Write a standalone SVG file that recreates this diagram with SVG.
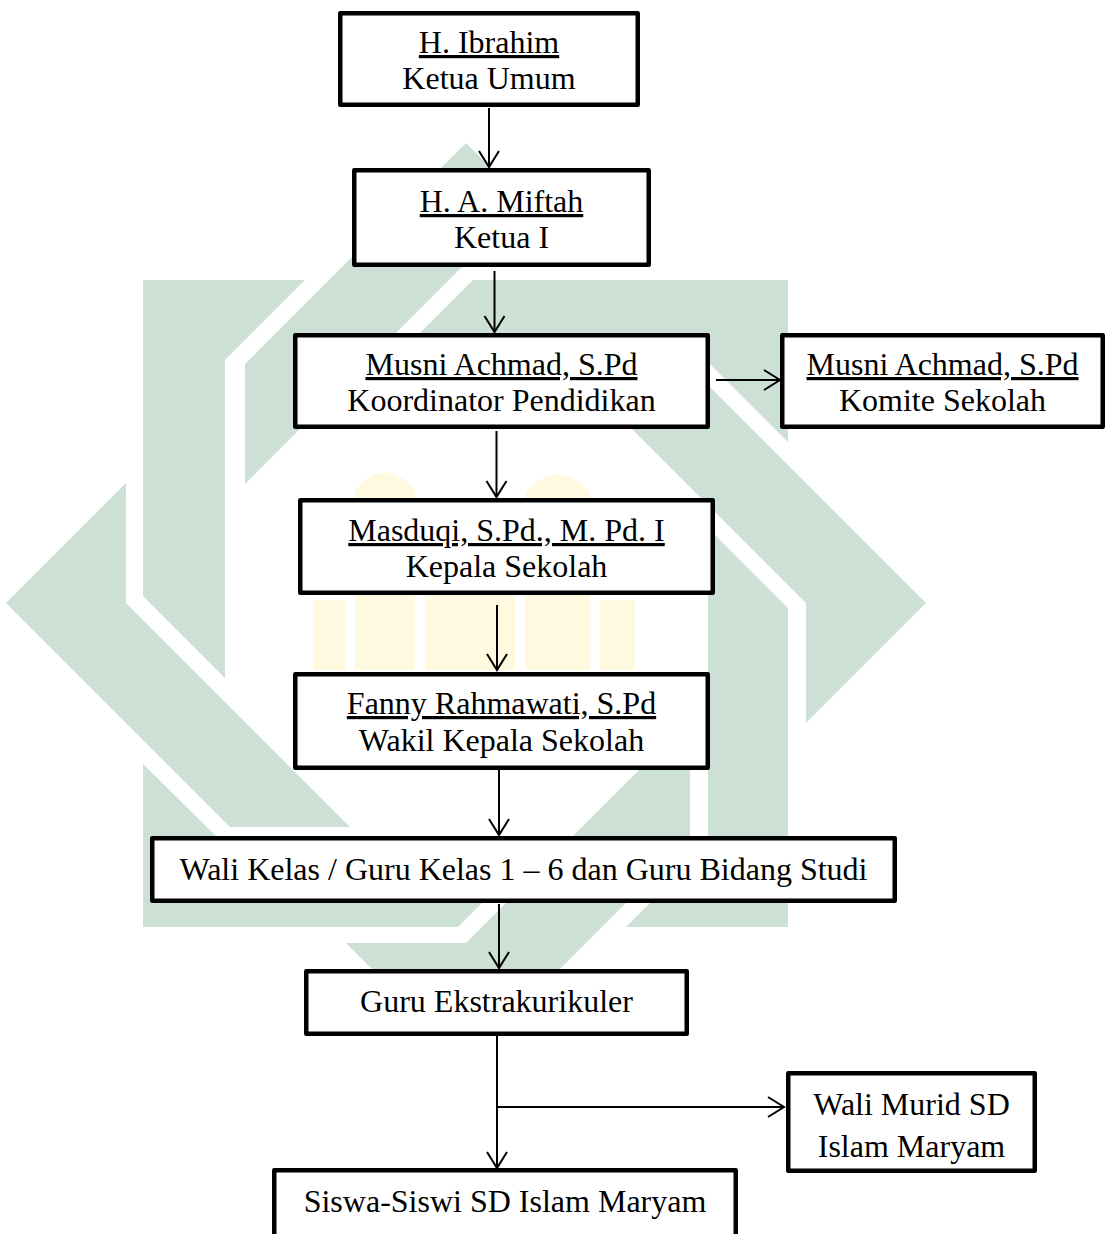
<svg xmlns="http://www.w3.org/2000/svg" width="1107" height="1234" viewBox="0 0 1107 1234">
<style>
.wm{fill:#cde0d6;stroke:none}
.yl{fill:#fffadf;stroke:none}
.box{fill:#fff;stroke:#000;stroke-width:4.5;stroke-linejoin:round}
.t{font-family:"Liberation Serif","Times New Roman",serif;font-size:32px;fill:#000;text-anchor:middle}
.u{text-decoration:underline}
.c{fill:none;stroke:#000;stroke-width:2}
</style>
<defs>
<marker id="ah" markerUnits="userSpaceOnUse" markerWidth="40" markerHeight="40" viewBox="-20 -20 40 40" refX="0" refY="0" orient="auto" overflow="visible">
<path d="M -16 -10 L 0 0 L -16 10" fill="none" stroke="#000" stroke-width="2"/>
</marker>
</defs>
<rect width="1107" height="1234" fill="#fff"/>
<g id="watermark">
<polygon class="wm" points="143,280 305,280 225,360 225,678 143,596"/>
<polygon class="wm" points="473,280 788,280 788,442 708,362 391,362"/>
<polygon class="wm" points="708,528 788,608 788,927 626,927 708,845"/>
<polygon class="wm" points="540,845 458,927 143,927 143,764 225,845"/>
<polygon class="wm" points="466,143 245,364 245,484 466,263 586,263"/>
<polygon class="wm" points="926,603 702,379 582,379 806,603 806,723"/>
<polygon class="wm" points="466,943 690,719 690,839 499,1030 433,1030 346,943"/>
<polygon class="wm" points="6,603 230,827 350,827 126,603 126,483"/>
<path class="yl" d="M313 670 V600 H345 V670 Z"/>
<path class="yl" d="M355 670 V490 Q385 455 415 490 V670 Z"/>
<path class="yl" d="M425 670 V530 H515 V670 Z"/>
<path class="yl" d="M525 670 V492 Q557 457 590 492 V670 Z"/>
<path class="yl" d="M600 670 V600 H635 V670 Z"/>
</g>
<g id="connectors">
<path class="c" d="M489 108 V167" marker-end="url(#ah)"/>
<path class="c" d="M494.5 271 V332" marker-end="url(#ah)"/>
<path class="c" d="M496.5 431 V497" marker-end="url(#ah)"/>
<path class="c" d="M497 605 V670" marker-end="url(#ah)"/>
<path class="c" d="M499 770 V835" marker-end="url(#ah)"/>
<path class="c" d="M499 904 V968" marker-end="url(#ah)"/>
<path class="c" d="M716 380 H780" marker-end="url(#ah)"/>
<path class="c" d="M497 1036 V1168" marker-end="url(#ah)"/>
<path class="c" d="M497 1107 H784" marker-end="url(#ah)"/>
</g>
<g id="n-ibrahim">
<rect class="box" x="340.25" y="13.25" width="297.5" height="91.5"/>
<text class="t u" x="489" y="53">H. Ibrahim</text>
<text class="t" x="489" y="89">Ketua Umum</text>
</g>
<g id="n-miftah">
<rect class="box" x="354.25" y="170.25" width="294.5" height="94.5"/>
<text class="t u" x="501.5" y="212">H. A. Miftah</text>
<text class="t" x="501.5" y="248">Ketua I</text>
</g>
<g id="n-koordinator">
<rect class="box" x="295.25" y="335.25" width="412.5" height="91.5"/>
<text class="t u" x="501.5" y="375">Musni Achmad, S.Pd</text>
<text class="t" x="501.5" y="411">Koordinator Pendidikan</text>
</g>
<g id="n-komite">
<rect class="box" x="782.25" y="335.25" width="320.5" height="91.5"/>
<text class="t u" x="942.5" y="375">Musni Achmad, S.Pd</text>
<text class="t" x="942.5" y="411">Komite Sekolah</text>
</g>
<g id="n-kepala">
<rect class="box" x="300.25" y="500.25" width="412.5" height="92.5"/>
<text class="t u" x="506.5" y="541">Masduqi, S.Pd., M. Pd. I</text>
<text class="t" x="506.5" y="577">Kepala Sekolah</text>
</g>
<g id="n-wakil">
<rect class="box" x="295.25" y="674.25" width="412.5" height="93.5"/>
<text class="t u" x="501.5" y="714">Fanny Rahmawati, S.Pd</text>
<text class="t" x="501.5" y="751">Wakil Kepala Sekolah</text>
</g>
<g id="n-walikelas">
<rect class="box" x="152.25" y="838.25" width="742.5" height="62.5"/>
<text class="t" x="523.5" y="880">Wali Kelas / Guru Kelas 1 – 6 dan Guru Bidang Studi</text>
</g>
<g id="n-ekstra">
<rect class="box" x="306.25" y="971.25" width="380.5" height="62.5"/>
<text class="t" x="496.5" y="1012">Guru Ekstrakurikuler</text>
</g>
<g id="n-walimurid">
<rect class="box" x="788.25" y="1073.25" width="246.5" height="97.5"/>
<text class="t" x="911.5" y="1115">Wali Murid SD</text>
<text class="t" x="911.5" y="1157">Islam Maryam</text>
</g>
<g id="n-siswa">
<rect class="box" x="274.25" y="1170.25" width="461.5" height="80"/>
<text class="t" x="505" y="1212">Siswa-Siswi SD Islam Maryam</text>
</g>
</svg>
